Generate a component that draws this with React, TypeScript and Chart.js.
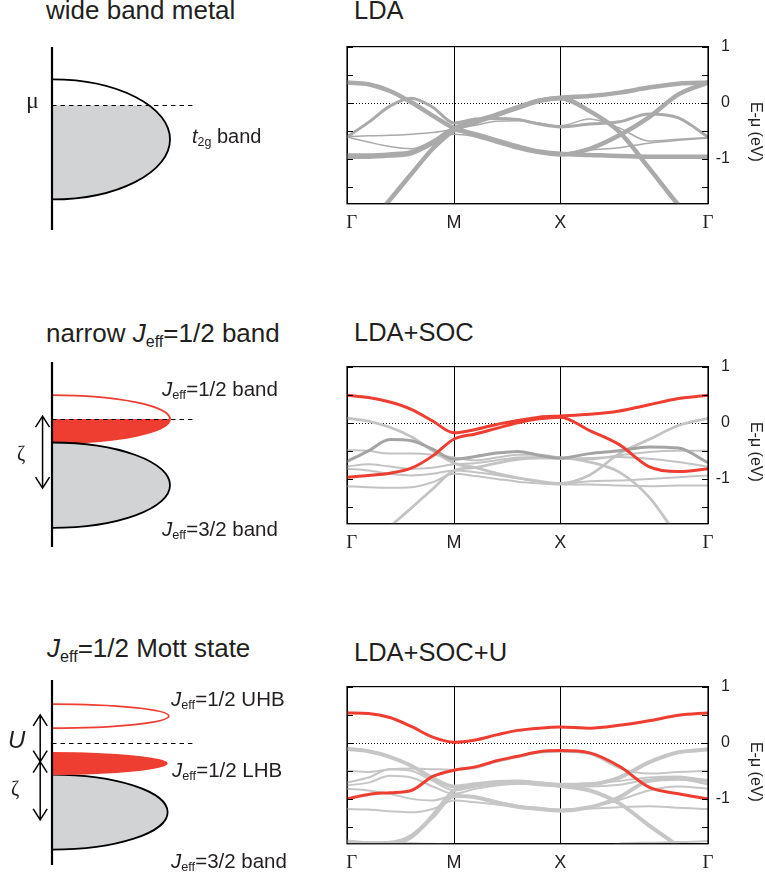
import React, { useEffect, useRef } from "react";
import { Chart, registerables } from "chart.js";
Chart.register(...registerables);

// ---------- k-path & energy axis ----------
const K_TICKS = [0, 1, 1.99, 3.37];
const K_LABELS = ["Γ", "M", "X", "Γ"];
const K = [0, 0.2, 0.4, 0.6, 0.8, 1, 1.198, 1.396, 1.594, 1.792, 1.99, 2.266, 2.542, 2.818, 3.094, 3.37];
const E_TICKS = [1, 0.5, 0, -0.5, -1, -1.5];
const E_MIN = -1.8;
const E_MAX = 1;
const E_TITLE = "E-μ (eV)";

// ---------- LDA bands (eV) ----------
const LDA_1 = [-0.94, -0.94, -0.92, -0.88, -0.7, -0.46, -0.33, -0.21, -0.08, 0.04, 0.09, 0.12, 0.18, 0.27, 0.34, 0.36];
const LDA_2 = [-2.62, -2.17, -1.73, -1.27, -0.82, -0.49, -0.35, -0.22, -0.09, 0.03, 0.08, -0.15, -0.52, -1.16, -1.82, -2.4];
const LDA_3 = [0.36, 0.33, 0.21, 0.01, -0.23, -0.45, -0.56, -0.67, -0.78, -0.87, -0.91, -0.93, -0.95, -0.96, -0.96, -0.96];
const LDA_4 = [-0.96, -0.96, -0.94, -0.9, -0.72, -0.48, -0.58, -0.69, -0.8, -0.88, -0.92, -0.82, -0.58, -0.26, 0.15, 0.36];
const LDA_5 = [-0.61, -0.35, -0.06, 0.08, -0.08, -0.36, -0.29, -0.28, -0.3, -0.38, -0.43, -0.38, -0.34, -0.2, -0.27, -0.61];
const LDA_6 = [-0.6, -0.59, -0.58, -0.56, -0.53, -0.47, -0.4, -0.33, -0.32, -0.36, -0.41, -0.29, -0.45, -0.68, -0.65, -0.62];
const LDA_7 = [-0.61, -0.7, -0.78, -0.82, -0.7, -0.56, -0.6, -0.68, -0.78, -0.86, -0.9, -0.84, -0.8, -0.72, -0.67, -0.63];

// ---------- LDA+SOC bands (eV) ----------
const SOC_R1 = [0.49, 0.45, 0.37, 0.24, 0.03, -0.18, -0.12, -0.03, 0.04, 0.1, 0.12, 0.15, 0.21, 0.32, 0.43, 0.49];
const SOC_R2 = [-0.97, -0.94, -0.9, -0.81, -0.59, -0.29, -0.2, -0.1, 0.0, 0.07, 0.1, -0.14, -0.39, -0.78, -0.87, -0.82];
const SOC_G1 = [0.08, 0.03, -0.08, -0.25, -0.5, -0.72, -0.8, -0.9, -0.98, -1.04, -1.08, -0.93, -0.55, -0.3, -0.05, 0.08];
const SOC_G2 = [-0.69, -0.5, -0.3, -0.32, -0.47, -0.65, -0.6, -0.54, -0.51, -0.58, -0.63, -0.55, -0.5, -0.43, -0.45, -0.71];
const SOC_G3 = [-0.49, -0.5, -0.55, -0.55, -0.57, -0.62, -0.67, -0.62, -0.57, -0.57, -0.62, -0.65, -0.58, -0.52, -0.5, -0.5];
const SOC_G4 = [-0.78, -0.74, -0.78, -0.82, -0.8, -0.74, -0.72, -0.67, -0.62, -0.61, -0.64, -0.63, -0.61, -0.64, -0.7, -0.78];
const SOC_G5 = [-0.82, -0.85, -0.91, -0.94, -0.91, -0.85, -0.88, -0.93, -0.99, -1.05, -1.09, -1.04, -1.03, -1.0, -0.97, -0.94];
const SOC_G6 = [-1.13, -1.15, -1.16, -1.15, -1.06, -0.91, -0.95, -1.0, -1.05, -1.08, -1.1, -1.1, -1.12, -1.13, -1.12, -1.12];
const SOC_G7 = [-2.5, -2.18, -1.85, -1.52, -1.18, -0.85, -0.8, -0.72, -0.65, -0.63, -0.63, -0.7, -0.88, -1.32, -2.03, -2.6];

// ---------- LDA+SOC+U bands (eV) ----------
const U_R1 = [0.53, 0.52, 0.45, 0.29, 0.1, 0.01, 0.05, 0.14, 0.22, 0.26, 0.28, 0.26, 0.31, 0.39, 0.49, 0.53];
const U_R2 = [-1.0, -0.92, -0.89, -0.85, -0.6, -0.49, -0.43, -0.32, -0.24, -0.16, -0.14, -0.18, -0.42, -0.79, -0.91, -1.0];
const U_G1 = [-0.11, -0.15, -0.25, -0.41, -0.63, -0.78, -0.74, -0.7, -0.69, -0.72, -0.75, -0.74, -0.62, -0.35, -0.17, -0.12];
const U_G2 = [-1.76, -1.79, -1.78, -1.66, -1.32, -0.95, -0.97, -1.06, -1.14, -1.18, -1.21, -1.15, -0.97, -0.68, -0.64, -0.68];
const U_G3 = [-1.78, -1.8, -1.8, -1.68, -1.3, -0.85, -0.76, -0.72, -0.71, -0.74, -0.77, -0.85, -1.08, -1.47, -1.85, -2.3];
const U_G4 = [-1.75, -1.77, -1.78, -1.79, -1.8, -1.82, -1.86, -1.9, -1.93, -1.95, -1.96, -1.9, -1.8, -1.78, -1.77, -1.75];
const U_G5 = [-0.5, -0.52, -0.47, -0.46, -0.47, -0.48, -0.45, -0.34, -0.26, -0.18, -0.16, -0.2, -0.45, -0.55, -0.52, -0.5];
const U_G6 = [-0.71, -0.62, -0.47, -0.5, -0.68, -0.85, -0.78, -0.73, -0.7, -0.71, -0.74, -0.72, -0.68, -0.62, -0.6, -0.68];
const U_G7 = [-0.76, -0.71, -0.59, -0.62, -0.78, -0.91, -0.82, -0.76, -0.73, -0.74, -0.76, -0.78, -0.75, -0.66, -0.65, -0.74];
const U_G8 = [-0.82, -0.85, -0.91, -1.0, -1.03, -0.94, -0.98, -1.05, -1.12, -1.16, -1.19, -1.15, -1.02, -0.85, -0.78, -0.82];
const U_G9 = [-1.18, -1.19, -1.22, -1.24, -1.18, -1.03, -1.06, -1.1, -1.15, -1.18, -1.2, -1.17, -1.15, -1.13, -1.16, -1.18];

// ---------- schematic DOS (arbitrary energy units, mu = 0) ----------
const METAL_E = [-2.08, 0.97];
const METAL_DOS = [{ center: -0.57, half: 1.0, width: 1.0, kind: "grayBelow" }];
const METAL_ARROWS: number[][] = [];

const SOC_E = [-2.13, 0.95];
const SOC_DOS = [
  { center: 0, half: 0.4, width: 1.0, kind: "redBelow" },
  { center: -1.1, half: 0.71, width: 1.0, kind: "grayFull" },
];
const SOC_ARROWS = [[-0.08, 0.05, -1.15]];

const MOTT_E = [-2.03, 1.05];
const MOTT_DOS = [
  { center: -1.15, half: 0.625, width: 0.98, kind: "grayFull" },
  { center: -0.34, half: 0.19, width: 0.98, kind: "redFill" },
  { center: 0.45, half: 0.2, width: 0.99, kind: "redOutline" },
];
const MOTT_ARROWS = [
  [-0.1, 0.47, -0.31],
  [-0.1, -0.31, -1.28],
];

// ---------- styles ----------
const RED = "#ee3d31";
const GRAY_FILL = "#d1d3d4";
const SANS = '"Liberation Sans", Arial, Helvetica, sans-serif';
const SERIF = '"Liberation Serif", "Times New Roman", serif';
const INK = "#231f20";

type St = { color: string; width: number };
const S = {
  red: { color: RED, width: 3 },
  t1: { color: "#aaaaaa", width: 4.5 },
  m1: { color: "#aaaaaa", width: 3 },
  n1: { color: "#aaaaaa", width: 1.5 },
  l2: { color: "#c3c3c3", width: 2 },
  lm2: { color: "#c3c3c3", width: 2.8 },
  d2: { color: "#a4a4a4", width: 3 },
  t3: { color: "#c6c6c6", width: 4 },
  l3: { color: "#c6c6c6", width: 2 },
};

const LDA_BANDS: [number[], St][] = [
  [LDA_1, S.t1], [LDA_2, S.t1], [LDA_3, S.t1], [LDA_4, S.t1], [LDA_5, S.m1], [LDA_6, S.n1], [LDA_7, S.n1],
];
const SOC_BANDS: [number[], St][] = [
  [SOC_R1, S.red], [SOC_R2, S.red], [SOC_G2, S.d2], [SOC_G1, S.lm2], [SOC_G7, S.lm2],
  [SOC_G3, S.l2], [SOC_G4, S.l2], [SOC_G5, S.l2], [SOC_G6, S.l2],
];
const U_BANDS: [number[], St][] = [
  [U_R1, S.red], [U_R2, S.red], [U_G1, S.t3], [U_G2, S.t3], [U_G3, S.t3], [U_G4, S.l3],
  [U_G5, S.l3], [U_G6, S.l3], [U_G7, S.l3], [U_G8, S.l3], [U_G9, S.l3],
];

// ---------- band-structure chart ----------
const framePlugin = {
  id: "bandFrame",
  beforeDatasetsDraw(chart: any) {
    const { ctx, chartArea: a, scales } = chart;
    const y0 = Math.round(scales.y.getPixelForValue(0)) + 0.5;
    ctx.save();
    ctx.strokeStyle = "#000";
    ctx.lineWidth = 1;
    ctx.setLineDash([1, 2]);
    ctx.beginPath();
    ctx.moveTo(a.left, y0);
    ctx.lineTo(a.right, y0);
    ctx.stroke();
    ctx.restore();
  },
  afterDraw(chart: any) {
    const { ctx, chartArea: a, scales } = chart;
    ctx.save();
    ctx.strokeStyle = "#000";
    ctx.lineWidth = 1.2;
    ctx.strokeRect(a.left, a.top, a.right - a.left, a.bottom - a.top);
    ctx.lineWidth = 1;
    E_TICKS.forEach((v) => {
      const y = Math.round(scales.y.getPixelForValue(v)) + 0.5;
      ctx.beginPath();
      ctx.moveTo(a.left, y);
      ctx.lineTo(a.left + 6, y);
      ctx.moveTo(a.right, y);
      ctx.lineTo(a.right - 6, y);
      ctx.stroke();
    });
    ctx.restore();
  },
};

function makeBandChart(canvas: HTMLCanvasElement, bands: [number[], St][]) {
  return new Chart(canvas, {
    type: "scatter",
    data: {
      datasets: bands.map(([vals, st]) => ({
        data: K.map((k, i) => ({ x: k, y: vals[i] })),
        xAxisID: "x",
        yAxisID: "y",
        showLine: true,
        borderColor: st.color,
        backgroundColor: st.color,
        borderWidth: st.width,
        pointRadius: 0,
        pointHoverRadius: 0,
        cubicInterpolationMode: "monotone",
        clip: 0,
        borderCapStyle: "round",
        borderJoinStyle: "round",
      })) as any,
    },
    options: {
      responsive: false,
      animation: false,
      events: [],
      layout: { padding: { left: 27, top: 15, right: 0, bottom: 0 } },
      plugins: { legend: { display: false }, tooltip: { enabled: false }, title: { display: false } },
      scales: {
        x: {
          type: "linear",
          min: K_TICKS[0],
          max: K_TICKS[K_TICKS.length - 1],
          afterBuildTicks: (s: any) => {
            s.ticks = K_TICKS.map((v) => ({ value: v }));
          },
          afterFit: (s: any) => {
            s.height = 36.2;
          },
          ticks: {
            autoSkip: false,
            maxRotation: 0,
            padding: 8,
            color: INK,
            callback: (_v: any, i: number) => (i === 0 ? "  " + K_LABELS[i] : K_LABELS[i]),
            font: (c: any) => ({
              family: K_LABELS[c.index] === "Γ" ? SERIF : SANS,
              size: K_LABELS[c.index] === "Γ" ? 19 : 18,
            }),
          },
          grid: { color: "#000", lineWidth: 1, drawTicks: false },
          border: { display: true, color: "#000", width: 1 },
        },
        y: {
          type: "linear",
          position: "right",
          weight: 0,
          min: E_MIN,
          max: E_MAX,
          afterBuildTicks: (s: any) => {
            s.ticks = E_TICKS.map((v) => ({ value: v }));
          },
          afterFit: (s: any) => {
            s.width = 22;
          },
          ticks: {
            crossAlign: "far",
            padding: 7,
            color: INK,
            font: { family: SANS, size: 16 },
            callback: (v: any) => (Number.isInteger(v) ? String(v) : ""),
          },
          grid: { display: false, drawTicks: false },
          border: { display: true, color: "#000", width: 1 },
        },
        y2: {
          type: "linear",
          position: "right",
          weight: 1,
          min: E_MIN,
          max: E_MAX,
          afterFit: (s: any) => {
            s.width = 35;
          },
          ticks: { display: false },
          grid: { display: false, drawTicks: false },
          border: { display: false },
          title: { display: true, text: "   " + E_TITLE, color: INK, font: { family: SANS, size: 16 }, padding: 0 },
        },
      },
    } as any,
    plugins: [framePlugin],
  });
}

// ---------- schematic DOS chart ----------
function schematicPlugin(dos: any[], arrows: number[][]) {
  return {
    id: "dosSchematic",
    afterDraw(chart: any) {
      const { ctx, chartArea: a, scales } = chart;
      const xs = scales.x;
      const ys = scales.y;
      const cx = xs.getPixelForValue(0);
      const yMu = ys.getPixelForValue(0);
      const half = (b: any) => {
        const cy = ys.getPixelForValue(b.center);
        const ry = Math.abs(ys.getPixelForValue(b.center + b.half) - cy);
        const rx = xs.getPixelForValue(b.width) - cx;
        return { cy, rx, ry };
      };
      const path = (b: any) => {
        const { cy, rx, ry } = half(b);
        ctx.beginPath();
        ctx.ellipse(cx, cy, rx, ry, 0, -Math.PI / 2, Math.PI / 2);
        ctx.closePath();
      };
      ctx.save();
      dos.forEach((b) => {
        const fillColor = b.kind.startsWith("red") ? RED : GRAY_FILL;
        const lineColor = b.kind.startsWith("red") ? RED : "#000";
        if (b.kind === "grayBelow" || b.kind === "redBelow") {
          ctx.save();
          ctx.beginPath();
          ctx.rect(cx - 5, yMu, 400, 400);
          ctx.clip();
          path(b);
          ctx.fillStyle = fillColor;
          ctx.fill();
          ctx.restore();
        } else if (b.kind === "grayFull" || b.kind === "redFill") {
          path(b);
          ctx.fillStyle = fillColor;
          ctx.fill();
        }
        if (b.kind !== "redFill") {
          const { cy, rx, ry } = half(b);
          ctx.beginPath();
          ctx.ellipse(cx, cy, rx, ry, 0, -Math.PI / 2, Math.PI / 2);
          ctx.strokeStyle = lineColor;
          ctx.lineWidth = 1.8;
          ctx.stroke();
        }
      });
      // chemical potential
      ctx.strokeStyle = "#000";
      ctx.lineWidth = 1;
      ctx.setLineDash([4.5, 4]);
      ctx.beginPath();
      ctx.moveTo(cx, Math.round(yMu) + 0.5);
      ctx.lineTo(xs.getPixelForValue(1.19), Math.round(yMu) + 0.5);
      ctx.stroke();
      ctx.setLineDash([]);
      // arrows
      ctx.lineWidth = 1.5;
      arrows.forEach(([x, e1, e2]) => {
        const px = xs.getPixelForValue(x);
        const y1 = ys.getPixelForValue(e1);
        const y2 = ys.getPixelForValue(e2);
        ctx.beginPath();
        ctx.moveTo(px, y1);
        ctx.lineTo(px, y2);
        ctx.moveTo(px - 7, y1 + 11);
        ctx.lineTo(px, y1);
        ctx.lineTo(px + 7, y1 + 11);
        ctx.moveTo(px - 7, y2 - 11);
        ctx.lineTo(px, y2);
        ctx.lineTo(px + 7, y2 - 11);
        ctx.stroke();
      });
      // DOS axis
      ctx.lineWidth = 2.2;
      ctx.beginPath();
      ctx.moveTo(cx, a.top);
      ctx.lineTo(cx, a.bottom);
      ctx.stroke();
      ctx.restore();
    },
  };
}

function makeSchematic(canvas: HTMLCanvasElement, eRange: number[], dos: any[], arrows: number[][], padTop: number, padBottom: number) {
  return new Chart(canvas, {
    type: "scatter",
    data: { datasets: [] },
    options: {
      responsive: false,
      animation: false,
      events: [],
      layout: { padding: { left: 52, right: 12, top: padTop, bottom: padBottom } },
      plugins: { legend: { display: false }, tooltip: { enabled: false } },
      scales: {
        x: { type: "linear", min: 0, max: 2, display: false },
        y: { type: "linear", min: eRange[0], max: eRange[1], display: false },
      },
    } as any,
    plugins: [schematicPlugin(dos, arrows)],
  });
}

// ---------- text ----------
function T({ x, base, size, family = SANS, italic = false, children }: any) {
  const k = family === SERIF ? 0.8375 : 0.8465;
  return (
    <div
      style={{
        position: "absolute",
        left: x,
        top: base - k * size,
        fontSize: size,
        lineHeight: `${size}px`,
        fontFamily: family,
        fontStyle: italic ? "italic" : "normal",
        whiteSpace: "nowrap",
        color: INK,
      }}
    >
      {children}
    </div>
  );
}
const Sub = ({ children }: any) => (
  <span style={{ fontSize: "0.62em", position: "relative", top: "0.3em", fontStyle: "normal" }}>{children}</span>
);
const Jeff = () => (
  <>
    <i>J</i>
    <Sub>eff</Sub>
  </>
);

export default function App() {
  const b1 = useRef<HTMLCanvasElement>(null);
  const b2 = useRef<HTMLCanvasElement>(null);
  const b3 = useRef<HTMLCanvasElement>(null);
  const s1 = useRef<HTMLCanvasElement>(null);
  const s2 = useRef<HTMLCanvasElement>(null);
  const s3 = useRef<HTMLCanvasElement>(null);

  useEffect(() => {
    const charts = [
      makeBandChart(b1.current!, LDA_BANDS),
      makeBandChart(b2.current!, SOC_BANDS),
      makeBandChart(b3.current!, U_BANDS),
      makeSchematic(s1.current!, METAL_E, METAL_DOS, METAL_ARROWS, 17, 10),
      makeSchematic(s2.current!, SOC_E, SOC_DOS, SOC_ARROWS, 12, 13),
      makeSchematic(s3.current!, MOTT_E, MOTT_DOS, MOTT_ARROWS, 10, 15),
    ];
    return () => charts.forEach((c) => c.destroy());
  }, []);

  const cv = (ref: any, left: number, top: number, w: number, h: number) => (
    <canvas ref={ref} width={w} height={h} style={{ position: "absolute", left, top, width: w, height: h, display: "block" }} />
  );

  return (
    <div style={{ position: "absolute", left: 0, top: 0, width: 765, height: 880, overflow: "hidden", background: "#fff" }}>
      {cv(s1, 0, 30, 300, 210)}
      {cv(s2, 0, 350, 300, 210)}
      {cv(s3, 0, 670, 300, 210)}
      {cv(b1, 320, 30, 445, 210)}
      {cv(b2, 320, 350, 445, 210)}
      {cv(b3, 320, 670, 445, 210)}

      <T x={46} base={19.3} size={26}>wide band metal</T>
      <T x={354} base={20} size={25.5}>LDA</T>
      <T x={26} base={108} size={24} family={SERIF}>μ</T>
      <T x={192} base={142.7} size={20}>
        <i>t</i>
        <Sub>2g</Sub> band
      </T>

      <T x={46} base={341.7} size={26}>
        narrow <Jeff />=1/2 band
      </T>
      <T x={354} base={342} size={25.5}>LDA+SOC</T>
      <T x={162} base={396} size={20.5}>
        <Jeff />=1/2 band
      </T>
      <T x={162} base={536} size={20.5}>
        <Jeff />=3/2 band
      </T>
      <T x={17} base={460} size={20} family={SERIF}>ζ</T>

      <T x={47} base={657.3} size={26}>
        <Jeff />=1/2 Mott state
      </T>
      <T x={354} base={662} size={25.5}>LDA+SOC+U</T>
      <T x={171} base={706} size={20.5}>
        <Jeff />=1/2 UHB
      </T>
      <T x={172} base={777} size={20.5}>
        <Jeff />=1/2 LHB
      </T>
      <T x={171} base={868} size={20.5}>
        <Jeff />=3/2 band
      </T>
      <T x={8} base={748} size={24} italic>U</T>
      <T x={11} base={795} size={20} family={SERIF}>ζ</T>
    </div>
  );
}
